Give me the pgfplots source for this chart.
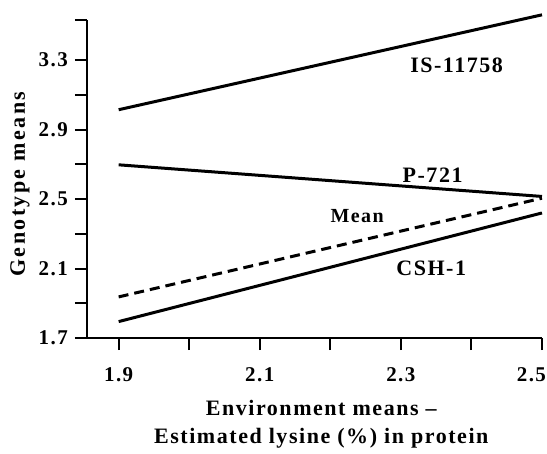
\documentclass[border=0pt]{standalone}
\usepackage{pgfplots}
\pgfplotsset{compat=1.18}
\usepackage{fontspec}
\setmainfont[LetterSpace=7]{Liberation Serif}
\newfontfamily\widefont[LetterSpace=11]{Liberation Serif}
\begin{document}
\begin{tikzpicture}
\begin{axis}[
    scale only axis,
    width=227.5pt, height=159pt,
    xmin=1.855, xmax=2.5,
    ymin=1.7, ymax=3.53,
    axis lines=left,
    axis line style={line width=1pt, -},
    clip=false,
    xtick={1.9,2.1,2.3,2.5},
    minor xtick={2.0,2.2,2.4},
    ytick={1.7,2.1,2.5,2.9,3.3},
    minor ytick={1.9,2.3,2.7,3.1,3.53},
    tick align=outside,
    major tick length=6pt,
    minor tick length=6pt,
    every tick/.style={line width=1pt, black},
    xticklabels={1.9,2.1,2.3,\hspace*{4pt}\makebox[0pt][r]{2.5}},
    yticklabels={1.7,2.1,2.5,2.9,3.3},
    tick label style={font=\fontsize{10.5}{12}\selectfont\bfseries},
    xticklabel style={yshift=-5pt},
    /pgf/number format/assume math mode=true,
    xlabel={Environment means --\\Estimated lysine (\%) in protein},
    xlabel style={align=center, font=\fontsize{11}{14}\selectfont\bfseries,
        at={(rel axis cs:0.515,-0.27)}, anchor=center},
    ylabel={Genotype means},
    ylabel style={font=\widefont\fontsize{11}{12}\selectfont\bfseries,
        at={(rel axis cs:-0.147,0.484)}, anchor=center},
]
\coordinate (bbl) at (rel axis cs:-0.191,-0.362);
\coordinate (btr) at (rel axis cs:1.011,1.063);
\addplot[black, line width=1.5pt] coordinates {(1.9,3.014) (2.5,3.56)};
\addplot[black, line width=1.5pt] coordinates {(1.9,2.697) (2.5,2.515)};
\addplot[black, line width=1.5pt, dash pattern=on 5pt off 3pt] coordinates {(1.9,1.937) (2.5,2.505)};
\addplot[black, line width=1.5pt] coordinates {(1.9,1.795) (2.5,2.42)};
\node[font=\fontsize{11}{12}\selectfont\bfseries] at (axis cs:2.379,3.27) {IS-11758};
\node[font=\fontsize{11}{12}\selectfont\bfseries] at (axis cs:2.345,2.64) {P-721};
\node[font=\fontsize{10}{12}\selectfont\bfseries] at (axis cs:2.238,2.40) {Mean};
\node[font=\fontsize{11}{12}\selectfont\bfseries] at (axis cs:2.343,2.10) {CSH-1};
\end{axis}
\pgfresetboundingbox
\path[use as bounding box] (bbl) rectangle (btr);
\end{tikzpicture}
\end{document}
